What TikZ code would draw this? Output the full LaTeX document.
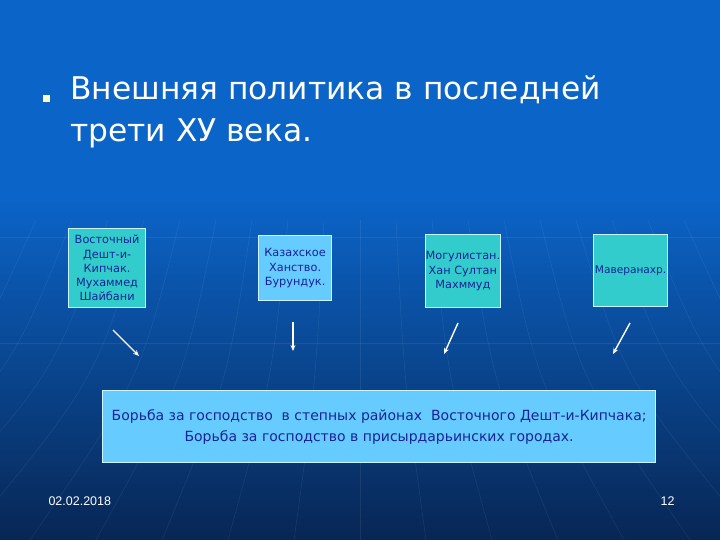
\documentclass[tikz,border=0pt]{standalone}
\usepackage{fontspec}
\setmainfont{Liberation Sans}
\newfontfamily\headfont{DejaVu Sans}
\usetikzlibrary{arrows.meta, positioning, calc}
\definecolor{slidetop}{RGB}{11,100,200}
\definecolor{slidebot}{RGB}{8,38,84}
\definecolor{boxteal}{RGB}{51,204,204}
\definecolor{boxsky}{RGB}{102,204,255}
\definecolor{boxtext}{RGB}{24,34,150}
\definecolor{boxedge}{RGB}{205,245,255}
\definecolor{bulletcol}{RGB}{255,255,200}

\begin{document}
\begin{tikzpicture}[x=1pt, y=-1pt,
    topic/.style={rectangle, draw=boxedge, line width=1.2pt, anchor=north west,
                  align=center, text=boxtext, inner sep=0pt,
                  font=\headfont\fontsize{11.3}{14.3}\selectfont},
    arr/.style={-{Stealth[length=6pt, width=5pt]}, white, line width=1.4pt},
    grid/.style={white, opacity=0.07, line width=0.6pt},
    foot/.style={text=white, font=\fontsize{12.5}{14}\selectfont}
]
    % background
    \fill[slidetop] (0,0) rectangle (720,200);
    \fill[top color=slidetop, bottom color=slidebot] (0,199) rectangle (720,540);
    \useasboundingbox (0,0) rectangle (720,540);
    \foreach \k in {-9,...,9}
        \draw[grid] (360+\k*36,220) .. controls (360+\k*44,380) .. (360+\k*66,540);
    \draw[grid] (0,237) -- (720,237);
    \draw[grid] (0,343) -- (720,343);

    % heading
    \node[fill=bulletcol, minimum size=7pt, inner sep=0pt] (dot) at (46.5,98.5) {};
    \node[anchor=north west, text=white, align=left, inner sep=0pt,
          font=\headfont\fontsize{31.3}{42}\selectfont] (head) at (70,76)
        {Внешняя политика в последней\\трети ХУ века.};

    % rulers
    \node[topic, fill=boxteal, minimum width=77pt, minimum height=79pt] (shaib) at (68,228)
        {Восточный\\Дешт-и-\\Кипчак.\\Мухаммед\\Шайбани};
    \node[topic, fill=boxsky, minimum width=73pt, minimum height=65pt] (kazakh) at (258,235)
        {Казахское\\Ханство.\\Бурундук.};
    \node[topic, fill=boxteal, minimum width=73pt, minimum height=73pt] (mogul) at (425,234)
        {Могулистан.\\Хан Султан\\Махммуд};
    \node[topic, fill=boxteal, minimum width=74pt, minimum height=72pt,
          font=\headfont\fontsize{10.6}{13}\selectfont] (maver) at (593,234)
        {Маверанахр.};

    % struggle
    \node[topic, fill=boxsky, minimum width=553pt, minimum height=72pt,
          font=\headfont\fontsize{14}{21}\selectfont] (fight) at (102,390)
        {Борьба за господство\ \ в степных районах\ \ Восточного Дешт-и-Кипчака;\\
         Борьба за господство в присырдарьинских городах.};

    \coordinate (s1) at (113,330); \coordinate (e1) at (139,356);
    \coordinate (s2) at (293,322); \coordinate (e2) at (293,351);
    \coordinate (s3) at (458,323); \coordinate (e3) at (444,354);
    \coordinate (s4) at (630,323); \coordinate (e4) at (613,354);
    \foreach \i in {1,...,4}
        \draw[arr] (s\i) -- (e\i);

    % footer
    \node[foot, anchor=base west] (date) at (45,505) {02.02.2018};
    \node[foot, anchor=base east] (page) at (678,505) {12};
\end{tikzpicture}
\end{document}
